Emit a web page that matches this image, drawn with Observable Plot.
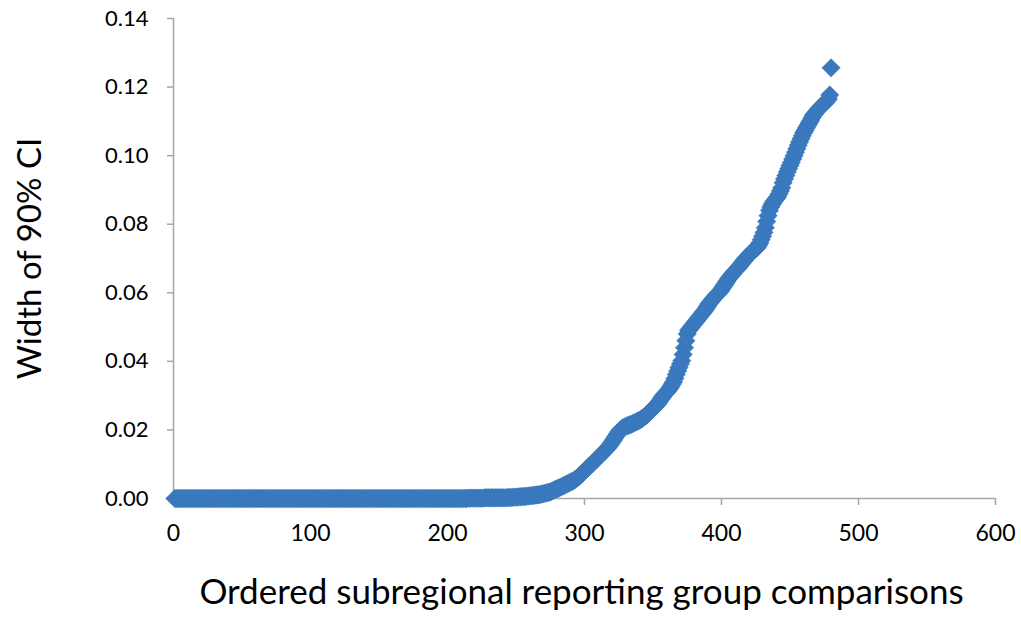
<!DOCTYPE html>
<html>
<head>
<meta charset="utf-8">
<script src="https://cdn.jsdelivr.net/npm/d3@7"></script>
<script src="https://cdn.jsdelivr.net/npm/@observablehq/plot@0.6"></script>
<style>
  html, body { margin: 0; padding: 0; background: #fff; }
  #chart svg { display: block; }
</style>
</head>
<body>
<div id="chart"></div>
<script>
// Width of 90% CI for ordered comparisons 1..480
const widthsPart1 = [ // comparisons 1-240
  0,0,0,0,0,0,0,0,0,0, 0,0,0,0,0,0,0,0,0,0,
  0,0,0,0,0,0,0,0,0,0, 0,0,0,0,0,0,0,0,0,0,
  0,0,0,0,0,0,0,0,0,0, 0,0,0,0,0,0,0,0,0,0,
  0,0,0,0,0,0,0,0,0,0, 0,0,0,0,0,0,0,0,0,0,
  0,0,0,0,0,0,0,0,0,0, 0,0,0,0,0,0,0,0,0,0,
  0,0,0,0,0,0,0,0,0,0, 0,0,0,0,0,0,0,0,0,0,
  0,0,0,0,0,0,0,0,0,0, 0,0,0,0,0,0,0,0,0,0,
  0,0,0,0,0,0,0,0,0,0, 0,0,0,0,0,0,0,0,0,0,
  0,0,0,0,0,0,0,0,0,0, 0,0,0,0,0,0,0,0,0,0,
  0,0,0,0,0,0,0,0,0,0, 0,0,0,0,0,0,0,0,0,0,
  0,0,0,0,0,0,0,0,0,0, 0,0,0,0,0.0001,0.0001,0.0001,0.0001,0.0001,0.0001,
  0.0001,0.0001,0.0001,0.0001,0.0001,0.0001,0.0002,0.0002,0.0002,0.0002, 0.0002,0.0002,0.0002,0.0002,0.0002,0.0002,0.0002,0.0002,0.0002,0.0002
];
const widthsPart2 = [ // comparisons 241-480
  0.0002,0.0002,0.0002,0.0003,0.0003,0.0003,0.0003,0.0004,0.0004,0.0004,
  0.0004,0.0005,0.0005,0.0005,0.0006,0.0006,0.0006,0.0007,0.0007,0.0008,
  0.0008,0.0009,0.0009,0.0010,0.0010,0.0011,0.0011,0.0012,0.0013,0.0014,
  0.0015,0.0016,0.0017,0.0018,0.0019,0.0021,0.0023,0.0025,0.0027,0.0029,
  0.0030,0.0032,0.0034,0.0036,0.0038,0.0040,0.0042,0.0044,0.0046,0.0048,
  0.0050,0.0052,0.0055,0.0058,0.0061,0.0064,0.0068,0.0072,0.0076,0.0080,
  0.0084,0.0088,0.0092,0.0095,0.0099,0.0103,0.0107,0.0111,0.0115,0.0119,
  0.0123,0.0127,0.0131,0.0135,0.0139,0.0144,0.0148,0.0153,0.0158,0.0164,
  0.0170,0.0176,0.0182,0.0188,0.0194,0.0199,0.0203,0.0206,0.0208,0.0210,
  0.0212,0.0213,0.0215,0.0216,0.0218,0.0220,0.0222,0.0224,0.0226,0.0228,
  0.0230,0.0233,0.0236,0.0239,0.0242,0.0246,0.0250,0.0254,0.0258,0.0262,
  0.0266,0.0270,0.0274,0.0279,0.0285,0.0291,0.0297,0.0302,0.0306,0.0310,
  0.0315,0.0320,0.0326,0.0333,0.0340,0.0350,0.0362,0.0372,0.0382,0.0392,
  0.0402,0.0420,0.0440,0.0460,0.0480,0.0490,0.0495,0.0500,0.0505,0.0510,
  0.0515,0.0520,0.0525,0.0530,0.0535,0.0540,0.0545,0.0550,0.0556,0.0562,
  0.0569,0.0573,0.0578,0.0583,0.0588,0.0592,0.0596,0.0600,0.0604,0.0610,
  0.0616,0.0622,0.0628,0.0634,0.0640,0.0645,0.0650,0.0655,0.0660,0.0664,
  0.0668,0.0672,0.0677,0.0682,0.0687,0.0692,0.0697,0.0702,0.0706,0.0710,
  0.0714,0.0718,0.0722,0.0726,0.0729,0.0732,0.0738,0.0745,0.0755,0.0765,
  0.0776,0.0790,0.0808,0.0825,0.0840,0.0850,0.0858,0.0865,0.0870,0.0875,
  0.0880,0.0888,0.0897,0.0906,0.0921,0.0932,0.0942,0.0952,0.0962,0.0971,
  0.0980,0.0990,0.1000,0.1010,0.1020,0.1030,0.1040,0.1049,0.1058,0.1067,
  0.1074,0.1081,0.1088,0.1095,0.1102,0.1110,0.1117,0.1122,0.1127,0.1132,
  0.1136,0.1140,0.1144,0.1148,0.1152,0.1155,0.1160,0.1165,0.1177,0.1256
];
const ciWidths = widthsPart1.concat(widthsPart2);
const comparisonIndex = ciWidths.map((_, i) => i + 1);

const xTicks = [0, 100, 200, 300, 400, 500, 600];
const yTicks = [0, 0.02, 0.04, 0.06, 0.08, 0.10, 0.12, 0.14];
const xTitle = "Ordered subregional reporting group comparisons";
const yTitle = "Width of 90% CI";

const data = comparisonIndex.map((x, i) => ({x, y: ciWidths[i]}));

const axisColor = "#a6a6a6";
const font = "Lato, 'Open Sans', sans-serif";

const chart = Plot.plot({
  width: 1021,
  height: 624,
  marginLeft: 173,
  marginRight: 26,
  marginTop: 18,
  marginBottom: 126,
  style: {fontFamily: font, color: "#000", background: "#fff"},
  x: {domain: [0, 600], ticks: xTicks, label: null},
  y: {domain: [0, 0.14], ticks: yTicks, label: null},
  marks: [
    Plot.ruleY([0], {stroke: axisColor, strokeWidth: 1.5}),
    Plot.ruleX([0], {stroke: axisColor, strokeWidth: 1.5}),
    Plot.axisX({ticks: xTicks, tickSize: 7, tickPadding: 19, fontSize: 23, stroke: axisColor, strokeWidth: 1.5, strokeOpacity: 1, tickFormat: d3.format("d"), label: null, fill: "#000"}),
    Plot.axisY({ticks: yTicks, tickSize: 6, tickPadding: 19, fontSize: 22, stroke: axisColor, strokeWidth: 1.5, strokeOpacity: 1, tickFormat: d3.format(".2f"), label: null, fill: "#000"}),
    Plot.dot(data, {x: "x", y: "y", symbol: "diamond2", r: 8.3, fill: "#3a79bd", stroke: "#3a79bd", strokeWidth: 0.5}),
    Plot.text([yTitle], {frameAnchor: "left", textAnchor: "middle", rotate: -90, dx: -143, fontSize: 33, fill: "#000"}),
    Plot.text([xTitle], {frameAnchor: "bottom", textAnchor: "middle", dy: 105, dx: -3, fontSize: 35, fill: "#000"})
  ]
});
document.getElementById("chart").appendChild(chart);
</script>
</body>
</html>
